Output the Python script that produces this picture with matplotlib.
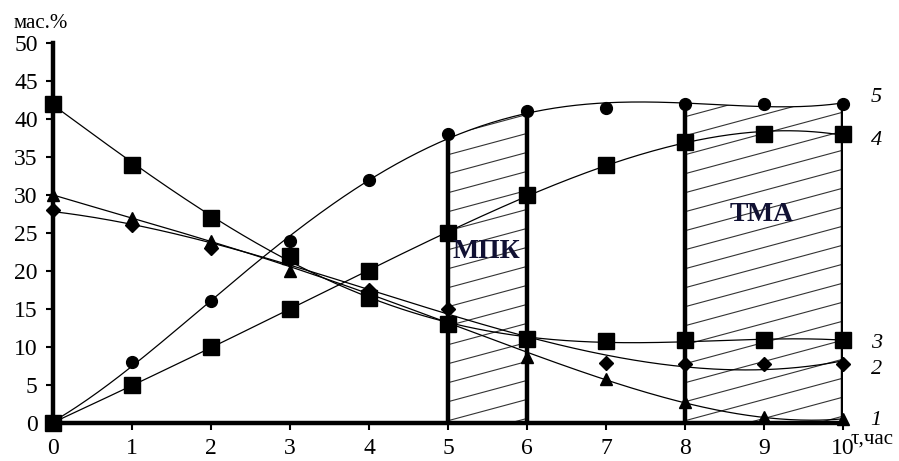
import numpy as np
import matplotlib.pyplot as plt
from matplotlib.patches import Polygon

# time, hours
t = [0, 1, 2, 3, 4, 5, 6, 7, 8, 9, 10]
# mass %, curves 1..5
s1 = [30, 27, 24, 20, 17.5, 13.5, 8.7, 5.8, 2.7, 0.8, 0.5]
s2 = [28, 26, 23, 21.5, 17.5, 15, 11, 7.9, 7.7, 7.8, 7.8]
s3 = [42, 34, 27, 22, 16.5, 13, 11, 10.8, 10.9, 10.9, 10.9]
s4 = [0, 5, 10, 15, 20, 25, 30, 34, 37, 38, 38]
s5 = [0, 8, 16, 24, 32, 38, 41, 41.5, 42, 42, 42]

zones = [(5, 6), (8, 10)]
bars = [5, 6, 8, 10]

serif = "Liberation Serif"

fig = plt.figure(figsize=(8.99, 4.61), dpi=100)
ax = fig.add_axes([53/899, 38/461, 790/899, 380/461])

x = np.array(t, dtype=float)
xs = np.linspace(0, 10, 300)

def trend(y, deg=4):
    return np.polyval(np.polyfit(x, y, deg), xs)

curve5 = trend(s5, 4)

# hatched zones under curve 5
for a, b in zones:
    m = (xs >= a) & (xs <= b)
    verts = [(a, 0)] + list(zip(xs[m], curve5[m])) + [(b, 0)]
    poly = Polygon(verts, closed=True, facecolor="none", edgecolor="none")
    ax.add_patch(poly)
    for y0 in np.arange(-40, 50, 2.5):
        ln, = ax.plot([a - 1, b + 1], [y0, y0 + 2.8 * (b - a + 2)],
                      color="#333333", lw=0.8, zorder=1)
        ln.set_clip_path(poly)

# thick vertical borders
for b in bars:
    ax.vlines(b, 0, s5[t.index(b)], color="black", lw=3.2, zorder=2)

series = [
    (s1, "^", 8, 4),
    (s2, "D", 7, 4),
    (s3, "s", 11, 4),
    (s4, "s", 11, 4),
    (s5, "o", 8.5, 4),
]
for y, mk, ms, deg in series:
    ax.plot(xs, trend(y, deg), color="black", lw=0.9, zorder=3)
    ax.plot(t, y, mk, color="black", ms=ms, zorder=4, clip_on=False)

ax.set_xlim(0, 10)
ax.set_ylim(0, 50)
ax.set_xticks(range(0, 11))
ax.set_yticks(range(0, 51, 5))
ax.spines["top"].set_visible(False)
ax.spines["right"].set_visible(False)
ax.spines["left"].set_linewidth(3.2)
ax.spines["bottom"].set_linewidth(3.2)
ax.tick_params(axis="both", width=1.5, length=5, labelsize=17, pad=6)
for lab in ax.get_xticklabels() + ax.get_yticklabels():
    lab.set_fontfamily(serif)

# axis captions
fig.text(14/899, 1 - 24/461, "мас.%", fontsize=15, family=serif, va="center")
fig.text(851/899, 1 - 439/461, "τ,час", fontsize=15, family=serif, va="center")

# curve numbers
for num, yv in [("5", 42.8), ("4", 37.2), ("3", 10.5), ("2", 7.0), ("1", 0.3)]:
    ax.text(10.35, yv, num, fontsize=16, family=serif, style="italic",
            va="center", ha="left", clip_on=False)

ax.text(5.48, 22.5, "МПК", fontsize=20, family=serif, weight="bold",
        color="#111133", ha="center", va="center", zorder=5)
ax.text(8.97, 27.4, "ТМА", fontsize=20, family=serif, weight="bold",
        color="#111133", ha="center", va="center", zorder=5)

fig.savefig("out.png", dpi=100)
